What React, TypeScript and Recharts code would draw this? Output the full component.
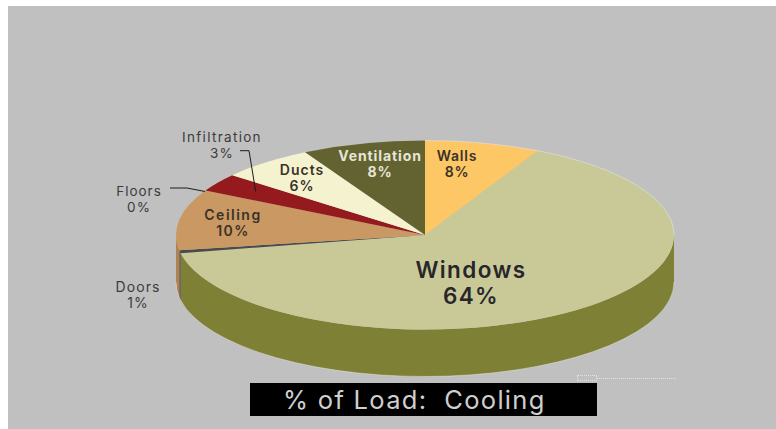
import React from "react";
import { PieChart, Pie, Cell } from "recharts";

const categories = ["Walls", "Windows", "Doors", "Ceiling", "Floors", "Infiltration", "Ducts", "Ventilation"];
const shares = [7.5, 64.49, 0.5, 10.4, 0, 3.1, 6.1, 8];
const percentLabels = ["8%", "64%", "1%", "10%", "0%", "3%", "6%", "8%"];
const topColors = ["#fdc766", "#c9c998", "#4a4a4a", "#c99863", "#951a1d", "#951a1d", "#f5f2d0", "#636332"];
const sideColors = ["#d9a850", "#7d8035", "#4a4a4a", "#b08250", "#7a1518", "#7a1518", "#d0cdb0", "#4f4f28"];

const FONT = "'Inter', 'Open Sans', sans-serif";
const SQUASH = 94.5 / 249;
const DEPTH = 47;

const data = categories.map((name, i) => ({ name, value: shares[i] }));

const labelStyles = [
  { x: 457, y1: 156, gap: 16, size: 14, color: "#3a3226", weight: 600, ls: 0.8 },
  { x: 471, y1: 270, gap: 25.5, size: 22.5, color: "#28262a", weight: 600, ls: 1.4 },
  { x: 138, y1: 286.5, gap: 16, size: 14, color: "#3c3c3c", weight: 400, ls: 1.1 },
  { x: 233, y1: 214.5, gap: 16, size: 14, color: "#3a3228", weight: 600, ls: 1.5 },
  { x: 139, y1: 191, gap: 16, size: 13.5, color: "#3c3c3c", weight: 400, ls: 1 },
  { x: 222, y1: 137.5, gap: 16, size: 13.5, color: "#3c3c3c", weight: 400, ls: 1.3 },
  { x: 302, y1: 169.5, gap: 16, size: 14, color: "#3a3226", weight: 600, ls: 1 },
  { x: 380, y1: 156, gap: 16, size: 14, color: "#e6e6d6", weight: 700, ls: 0.9 },
];
const leaders: Record<number, string> = {
  4: "170,188 187,188 205,191.5",
  5: "240,150.7 249,150.7 255.7,191.5",
};

const pt = (cx: number, cy: number, r: number, deg: number) => {
  const a = (deg * Math.PI) / 180;
  return [cx + r * Math.cos(a), cy - r * SQUASH * Math.sin(a)];
};

function EllipticSlice(props: any) {
  const { cx, cy, outerRadius: r, startAngle, endAngle, fill, index } = props;
  const ry = r * SQUASH;
  const [x1, y1] = pt(cx, cy, r, startAngle);
  const [x2, y2] = pt(cx, cy, r, endAngle);
  const large = Math.abs(startAngle - endAngle) > 180 ? 1 : 0;
  const top = `M${cx},${cy}L${x1},${y1}A${r},${ry} 0 ${large} 1 ${x2},${y2}Z`;
  const hi = Math.min(startAngle, 0);
  const lo = Math.max(endAngle, -180);
  let side = null;
  let rimBottom = null;
  if (hi > lo) {
    const [a, b] = pt(cx, cy, r, hi);
    const [c, d] = pt(cx, cy, r, lo);
    const lg = hi - lo > 180 ? 1 : 0;
    side = `M${a},${b}A${r},${ry} 0 ${lg} 1 ${c},${d}L${c},${d + DEPTH}A${r},${ry} 0 ${lg} 0 ${a},${b + DEPTH}Z`;
    rimBottom = `M${a},${b + DEPTH}A${r},${ry} 0 ${lg} 1 ${c},${d + DEPTH}`;
  }
  const rimHi = Math.min(startAngle, 90);
  const rimLo = Math.max(endAngle, 0);
  let rimTop = null;
  if (rimHi > rimLo) {
    const [a, b] = pt(cx, cy, r, rimHi);
    const [c, d] = pt(cx, cy, r, rimLo);
    rimTop = `M${a},${b}A${r},${ry} 0 0 1 ${c},${d}`;
  }
  return (
    <g>
      {side && <path d={side} fill={sideColors[index]} />}
      <path d={top} fill={fill} />
      {rimTop && <path d={rimTop} fill="none" stroke="#eeeeea" strokeOpacity={0.45} strokeWidth={1} />}
      {rimBottom && <path d={rimBottom} fill="none" stroke="#eeeeea" strokeOpacity={0.45} strokeWidth={1} />}
    </g>
  );
}

function SliceLabel(props: any) {
  const i = props.index;
  const s = labelStyles[i];
  return (
    <g>
      {leaders[i] && <polyline points={leaders[i]} fill="none" stroke="#1c1c1c" strokeWidth={1} />}
      <text
        textAnchor="middle"
        fontFamily={FONT}
        fontSize={s.size}
        fontWeight={s.weight}
        fill={s.color}
        letterSpacing={s.ls}
      >
        <tspan x={s.x} y={s.y1} dy="0.36em">{categories[i]}</tspan>
        <tspan x={s.x} y={s.y1 + s.gap} dy="0.36em">{percentLabels[i]}</tspan>
      </text>
    </g>
  );
}

export default function App() {
  return (
    <div style={{ position: "absolute", left: 0, top: 0, width: 776, height: 429, background: "#fff", overflow: "hidden" }}>
      <div style={{ position: "absolute", left: 8, top: 6, width: 768, height: 423, background: "#c0c0c0" }} />
      <div style={{ position: "absolute", left: 0, top: 0 }}>
        <PieChart width={776} height={429} margin={{ top: 0, right: 0, bottom: 0, left: 0 }}>
          <Pie
            data={data}
            dataKey="value"
            nameKey="name"
            cx={425}
            cy={235}
            innerRadius={0}
            outerRadius={249}
            startAngle={90}
            endAngle={-270}
            stroke="none"
            isAnimationActive={false}
            shape={EllipticSlice}
            label={SliceLabel}
            labelLine={false}
          >
            {data.map((d, i) => (
              <Cell key={d.name} fill={topColors[i]} />
            ))}
          </Pie>
        </PieChart>
      </div>
      <div
        style={{
          position: "absolute", left: 250, top: 383, width: 347, height: 33, background: "#000",
          color: "#cfcfcf", fontFamily: FONT, fontSize: 25.5, lineHeight: "33px", whiteSpace: "pre",
          paddingLeft: 33, boxSizing: "border-box", letterSpacing: 1.3,
        }}
      >
        {"% of Load:  Cooling"}
      </div>
      <div style={{ position: "absolute", left: 597, top: 378, width: 79, height: 0, borderTop: "1px dotted #e4e4e4" }} />
      <div style={{ position: "absolute", left: 577, top: 375, width: 20, height: 6, border: "1px dotted #e4e4e4", boxSizing: "border-box" }} />
    </div>
  );
}
